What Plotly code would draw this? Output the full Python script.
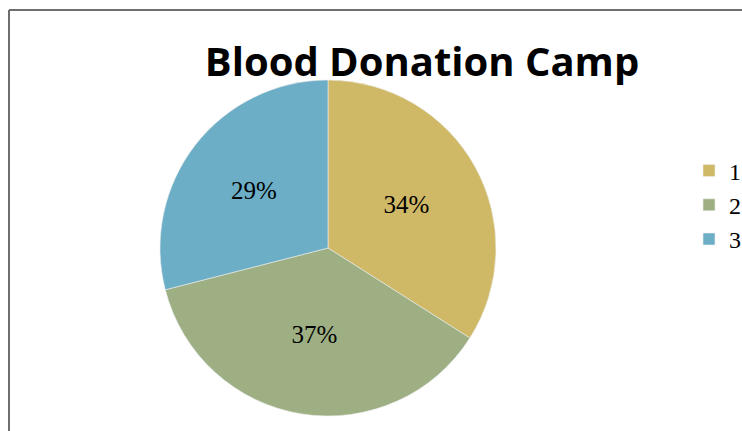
import plotly.graph_objects as go

categories = ["1", "2", "3"]
values = [34, 37, 29]
colors = ["#CFB866", "#9DAF83", "#6BAEC6"]
title_text = "Blood Donation Camp"

W, H = 742, 431
cx, cy, r = 328, 248, 168

fig = go.Figure(go.Pie(
    labels=categories,
    values=values,
    sort=False,
    direction="clockwise",
    rotation=0,
    marker=dict(colors=colors, line=dict(color="#EEEEEE", width=0.6)),
    textinfo="percent",
    texttemplate="%{percent:.0%}",
    textposition="inside",
    insidetextorientation="horizontal",
    textfont=dict(family="Liberation Serif", size=25, color="#000000"),
    domain=dict(x=[(cx - r) / W, (cx + r) / W], y=[1 - (cy + r) / H, 1 - (cy - r) / H]),
    hoverinfo="label+percent",
))

fig.update_layout(
    width=W, height=H,
    margin=dict(l=0, r=0, t=0, b=0, autoexpand=False),
    paper_bgcolor="white",
    plot_bgcolor="white",
    title=dict(text="<b>" + title_text + "</b>", x=422 / W, xanchor="center",
               y=1 - 62 / H, yanchor="middle",
               font=dict(family="Open Sans", size=40, color="#000000")),
    showlegend=True,
    legend=dict(x=689 / W, xanchor="left", y=1 - 205 / H, yanchor="middle",
                font=dict(family="Liberation Serif", size=24, color="#000000"),
                bgcolor="rgba(0,0,0,0)", itemwidth=30),
    shapes=[
        dict(type="line", xref="paper", yref="paper", x0=9 / W, x1=9 / W, y0=0, y1=1 - 10 / H,
             line=dict(color="#6E6E6E", width=2)),
        dict(type="line", xref="paper", yref="paper", x0=9 / W, x1=1, y0=1 - 10 / H, y1=1 - 10 / H,
             line=dict(color="#6E6E6E", width=2)),
    ],
)

fig.write_html(
    "out.html",
    config={"displayModeBar": False},
    post_script="document.body.style.margin='0';document.body.style.overflow='hidden';",
)
